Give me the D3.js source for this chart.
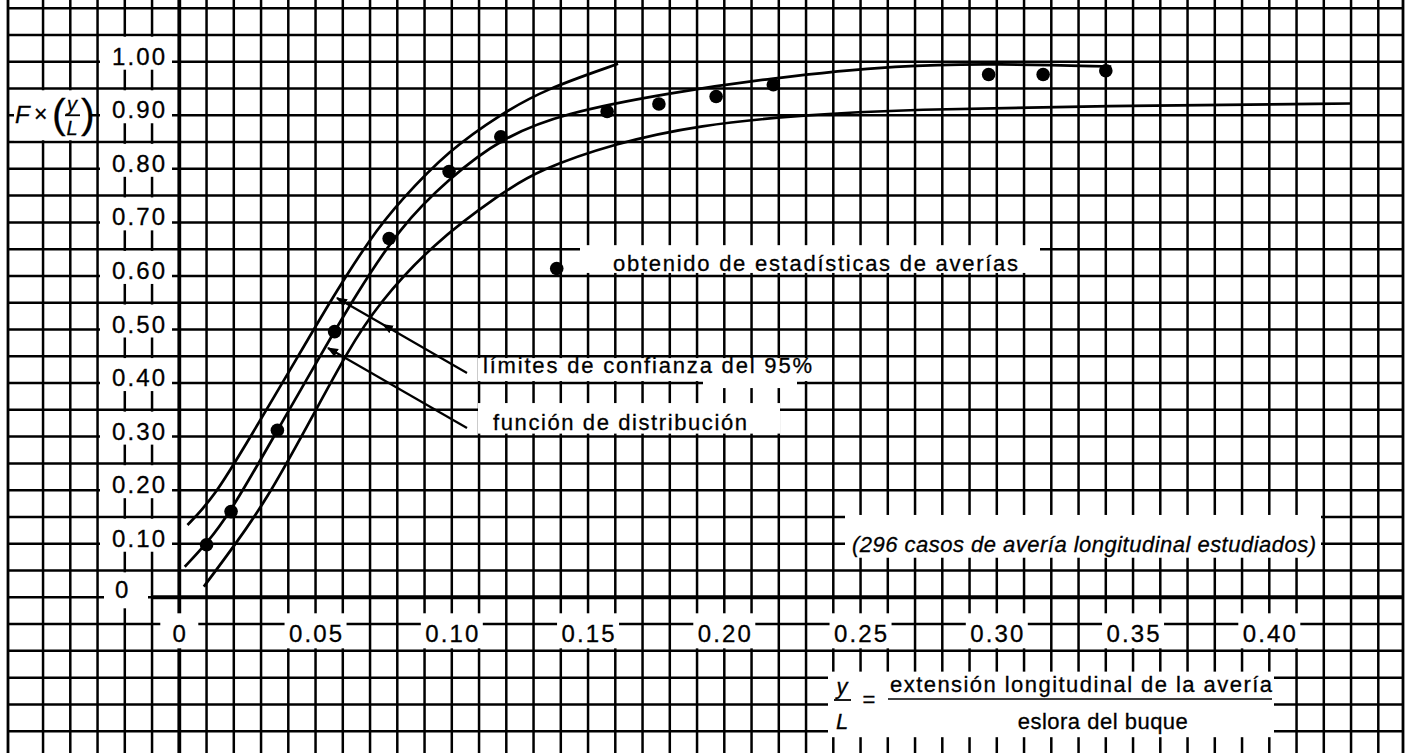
<!DOCTYPE html>
<html>
<head>
<meta charset="utf-8">
<script src="https://cdn.jsdelivr.net/npm/d3@7"></script>
<style>
  html, body { margin: 0; padding: 0; background: #fff; }
  svg { display: block; }
  text { font-family: "Liberation Sans", Arial, Helvetica, sans-serif; fill: #000; stroke: #000; stroke-width: 0.3px; }
</style>
</head>
<body>
<svg id="chart" width="1405" height="753"></svg>
<script>
// Tick values and labels
const xTickValues = [0, 0.05, 0.10, 0.15, 0.20, 0.25, 0.30, 0.35, 0.40];
const xTickLabels = ["0", "0.05", "0.10", "0.15", "0.20", "0.25", "0.30", "0.35", "0.40"];
const yTickValues = [0.10, 0.20, 0.30, 0.40, 0.50, 0.60, 0.70, 0.80, 0.90, 1.00];
const yTickLabels = ["0.10", "0.20", "0.30", "0.40", "0.50", "0.60", "0.70", "0.80", "0.90", "1.00"];

// Damage statistics (observed points)
const obsX = [0.010, 0.019, 0.036, 0.057, 0.077, 0.099, 0.118, 0.157, 0.176, 0.197, 0.218, 0.297, 0.317, 0.340];
const obsY = [0.098, 0.160, 0.312, 0.496, 0.670, 0.795, 0.860, 0.907, 0.921, 0.935, 0.957, 0.976, 0.976, 0.983];

// Distribution function
const midX = [0.002, 0.010, 0.019, 0.036, 0.053, 0.064, 0.081, 0.099, 0.118, 0.141, 0.179, 0.216, 0.265, 0.300, 0.342];
const midY = [0.057, 0.100, 0.160, 0.312, 0.462, 0.558, 0.692, 0.782, 0.857, 0.904, 0.941, 0.969, 0.994, 0.996, 0.991];

// 95% confidence limits
const upX = [0.003, 0.0125, 0.025, 0.045, 0.056, 0.070, 0.081, 0.099, 0.118, 0.134, 0.161];
const upY = [0.135, 0.185, 0.290, 0.462, 0.558, 0.670, 0.740, 0.835, 0.902, 0.948, 0.996];
const lowX = [0.009, 0.020, 0.032, 0.047, 0.062, 0.073, 0.093, 0.118, 0.132, 0.160, 0.191, 0.228, 0.265, 0.350, 0.430];
const lowY = [0.020, 0.095, 0.182, 0.320, 0.462, 0.548, 0.660, 0.754, 0.798, 0.848, 0.882, 0.900, 0.911, 0.918, 0.922];

// Legend entry point
const legendPoint = [0.1385, 0.614];

const svg = d3.select("#chart");
const W = 1405, H = 753;

const x = d3.scaleLinear().domain([0, 0.40]).range([179.3, 1269.3]);
const y = d3.scaleLinear().domain([0, 1.00]).range([597.3, 61.7]);

const gridLeft = 8, gridRight = 1403, gridTop = y(1.20);

// ---- grid paper ----
const grid = svg.append("g").attr("stroke", "#000").attr("stroke-width", 2.5);
d3.range(-5, 45).forEach(i => {
  const gx = x(i / 100);
  grid.append("line").attr("x1", gx).attr("x2", gx).attr("y1", gridTop).attr("y2", H);
});
d3.range(-5, 25).forEach(i => {
  const gy = y(i * 0.05);
  grid.append("line").attr("x1", gridLeft).attr("x2", gridRight).attr("y1", gy).attr("y2", gy);
});
// border
grid.append("line").attr("x1", gridLeft).attr("x2", gridLeft).attr("y1", gridTop).attr("y2", H).attr("stroke-width", 2.8);
grid.append("line").attr("x1", gridRight).attr("x2", gridRight).attr("y1", gridTop).attr("y2", H).attr("stroke-width", 2.8);
grid.append("line").attr("x1", gridLeft).attr("x2", gridRight).attr("y1", gridTop).attr("y2", gridTop).attr("stroke-width", 2.8);

// axes (heavier lines)
svg.append("line").attr("x1", x(0)).attr("x2", x(0)).attr("y1", gridTop).attr("y2", H)
  .attr("stroke", "#000").attr("stroke-width", 3.8);
svg.append("line").attr("x1", x(-0.01)).attr("x2", gridRight).attr("y1", y(0)).attr("y2", y(0))
  .attr("stroke", "#000").attr("stroke-width", 4);

// ---- white label panels cut out of the grid ----
const panels = svg.append("g").attr("fill", "#fff");
function panel(x0, y0, x1, y1) {
  panels.append("rect").attr("x", x0).attr("y", y0).attr("width", x1 - x0).attr("height", y1 - y0);
}
// y tick labels
yTickValues.forEach(v => panel(100, y(v + 0.05) + 1.8, 172, y(v) + 8));
panel(104, y(0.05) + 1.8, 148, y(0) + 11);
// y axis title
panel(14, y(0.95) + 1.8, 91, y(0.85) - 1.8);
// x tick labels
xTickValues.forEach((v, i) => {
  const half = i === 0 ? 19 : 31;
  panel(x(v) - half, y(0) + 16, x(v) + half, y(-0.10) - 2.5);
});
// legend / notes
panel(580, y(0.65) - 4, 1040, y(0.60) - 3);
panel(478, y(0.45) + 1.8, 815, y(0.40) - 2);
panel(703, y(0.40) - 4, 797, y(0.40) + 5);
panel(478, y(0.40) + 20, 780, y(0.30) - 3);
panel(845, y(0.15) - 2, 1321, y(0.10) + 14);
panel(828, y(-0.15) - 6, 1274, y(-0.25) + 6);

// ---- labels ----
const lab = svg.append("g");
yTickValues.forEach((v, i) => {
  lab.append("text").attr("x", 112).attr("y", y(v) + 3)
    .attr("font-size", 24).attr("textLength", 53).attr("lengthAdjust", "spacing")
    .text(yTickLabels[i]);
});
lab.append("text").attr("x", 115).attr("y", y(0) + 1).attr("font-size", 24).text("0");

xTickValues.forEach((v, i) => {
  const t = lab.append("text").attr("x", x(v)).attr("y", y(-0.05) + 18)
    .attr("font-size", 24).attr("text-anchor", "middle").text(xTickLabels[i]);
  if (i > 0) t.attr("textLength", 53).attr("lengthAdjust", "spacing");
});

// y axis title: F × (y/L)
const fy = y(0.90);
lab.append("text").attr("x", 15).attr("y", fy + 8).attr("font-size", 24).attr("font-style", "italic").text("F");
lab.append("text").attr("x", 34).attr("y", fy + 7).attr("font-size", 23).text("×");
lab.append("text").attr("x", 52).attr("y", fy + 13).attr("font-size", 41).text("(");
lab.append("text").attr("x", 72).attr("y", fy - 4).attr("font-size", 20).attr("font-style", "italic")
  .attr("text-anchor", "middle").text("y");
lab.append("line").attr("x1", 65).attr("x2", 80).attr("y1", fy).attr("y2", fy).attr("stroke", "#000").attr("stroke-width", 1.8);
lab.append("text").attr("x", 72).attr("y", fy + 20).attr("font-size", 20).attr("font-style", "italic")
  .attr("text-anchor", "middle").text("L");
lab.append("text").attr("x", 81).attr("y", fy + 13).attr("font-size", 41).text(")");

// notes
lab.append("text").attr("x", 613).attr("y", 271).attr("font-size", 22)
  .attr("textLength", 405).attr("lengthAdjust", "spacing").text("obtenido de estadísticas de averías");
lab.append("text").attr("x", 483).attr("y", 373).attr("font-size", 22)
  .attr("textLength", 329).attr("lengthAdjust", "spacing").text("límites de confianza del 95%");
lab.append("text").attr("x", 493).attr("y", 430).attr("font-size", 22)
  .attr("textLength", 254).attr("lengthAdjust", "spacing").text("función de distribución");
lab.append("text").attr("x", 852).attr("y", 552).attr("font-size", 22).attr("font-style", "italic")
  .attr("textLength", 464).attr("lengthAdjust", "spacing").text("(296 casos de avería longitudinal estudiados)");

// x axis title: y/L = extensión longitudinal de la avería / eslora del buque
lab.append("text").attr("x", 842).attr("y", 694).attr("font-size", 22).attr("font-style", "italic")
  .attr("text-anchor", "middle").text("y");
lab.append("line").attr("x1", 834).attr("x2", 851).attr("y1", 700).attr("y2", 700).attr("stroke", "#000").attr("stroke-width", 1.8);
lab.append("text").attr("x", 842).attr("y", 729).attr("font-size", 22).attr("font-style", "italic")
  .attr("text-anchor", "middle").text("L");
lab.append("text").attr("x", 869).attr("y", 707).attr("font-size", 22).attr("text-anchor", "middle").text("=");
lab.append("text").attr("x", 890).attr("y", 692).attr("font-size", 22)
  .attr("textLength", 382).attr("lengthAdjust", "spacing").text("extensión longitudinal de la avería");
lab.append("line").attr("x1", 888).attr("x2", 1272).attr("y1", 699).attr("y2", 699).attr("stroke", "#000").attr("stroke-width", 1.6);
lab.append("text").attr("x", 1103).attr("y", 729).attr("font-size", 22).attr("text-anchor", "middle")
  .attr("letter-spacing", 0.5).text("eslora del buque");

// ---- curves ----
const line = d3.line().x(d => x(d[0])).y(d => y(d[1])).curve(d3.curveBasis);
const curves = svg.append("g").attr("fill", "none").attr("stroke", "#000").attr("stroke-width", 2.7);
curves.append("path").attr("d", line(d3.zip(upX, upY)));
curves.append("path").attr("d", line(d3.zip(midX, midY)));
curves.append("path").attr("d", line(d3.zip(lowX, lowY)));

// ---- observed points ----
svg.append("g").selectAll("circle").data(d3.zip(obsX, obsY)).join("circle")
  .attr("cx", d => x(d[0])).attr("cy", d => y(d[1])).attr("r", 6.8).attr("fill", "#000");
svg.append("circle").attr("cx", x(legendPoint[0])).attr("cy", y(legendPoint[1])).attr("r", 6.8).attr("fill", "#000");

// ---- leader lines with arrow heads ----
const defs = svg.append("defs");
defs.append("marker").attr("id", "arrow").attr("viewBox", "0 0 10 10").attr("refX", 9).attr("refY", 5)
  .attr("markerWidth", 5).attr("markerHeight", 5).attr("orient", "auto")
  .append("path").attr("d", "M0,1 L10,5 L0,9 Z").attr("fill", "#000");
const leaders = svg.append("g").attr("stroke", "#000").attr("stroke-width", 2.2).attr("fill", "none");
// confidence limits: one leader marking the lower limit on its way to the upper one
leaders.append("path").attr("d", "M467,373 L383,324.5 L337,298")
  .attr("marker-mid", "url(#arrow)").attr("marker-end", "url(#arrow)");
// distribution function
leaders.append("path").attr("d", "M467,428 L328,348").attr("marker-end", "url(#arrow)");
</script>
</body>
</html>
